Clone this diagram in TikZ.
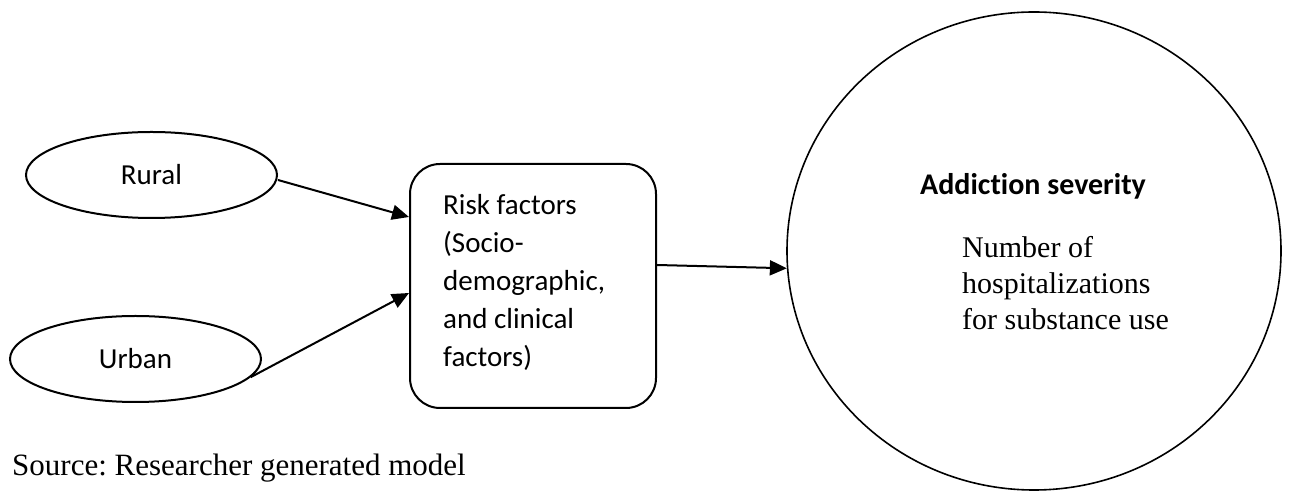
\documentclass[tikz,border=0pt]{standalone}
\usepackage{fontspec}
\setmainfont{Liberation Serif}
\newfontfamily\calib[Ligatures=NoCommon]{Carlito}
\usetikzlibrary{shapes.geometric,arrows.meta}
\frenchspacing
\begin{document}
\begin{tikzpicture}[x=1pt,y=1pt,
  oval/.style={draw,ellipse,line width=2pt,inner sep=0pt,minimum width=251pt,minimum height=86pt,font=\calib\fontsize{29}{35}\selectfont},
  riskbox/.style={draw,rectangle,rounded corners=30pt,line width=2pt,minimum width=246pt,minimum height=244pt,inner sep=0pt},
  bigoval/.style={draw,ellipse,line width=1.6pt,inner sep=0pt,minimum width=494pt,minimum height=478pt},
  conn/.style={line width=2pt,-{Triangle[length=17pt,width=15pt]}}]
\useasboundingbox (0,0) rectangle (1306,492);
\node[oval] (rural) at (151.5,317) {Rural};
\node[oval] (urban) at (135.5,133) {Urban};
\node[riskbox] (risk) at (533,206) {};
\node[bigoval] (sev) at (1034,241) {};
\node[anchor=base west,inner sep=0pt,font=\calib\fontsize{29}{38}\selectfont] (risktext) at (443,277)
  {\begin{tabular}[t]{@{}l@{}}Risk factors\\(Socio-\\demographic,\\and clinical\\factors)\end{tabular}};
\node[anchor=base,inner sep=0pt,font=\calib\bfseries\fontsize{30}{36}\selectfont] (sevtitle) at (1033,297) {Addiction severity};
\node[anchor=base west,inner sep=0pt,font=\fontsize{30}{36}\selectfont] (sevtext) at (962,234)
  {\begin{tabular}[t]{@{}l@{}}Number of\\hospitalizations\\for substance use\end{tabular}};
\node[anchor=base west,inner sep=0pt,font=\fontsize{31}{37}\selectfont] (source) at (12,16) {Source: Researcher generated model};
\draw[conn] ([yshift=-5pt]rural.east) -- ([yshift=69pt]risk.west);
\draw[conn] (urban.-9) -- ([yshift=-7pt]risk.west);
\draw[conn] ([yshift=21pt]risk.east) -- (sev.184);
\end{tikzpicture}
\end{document}
